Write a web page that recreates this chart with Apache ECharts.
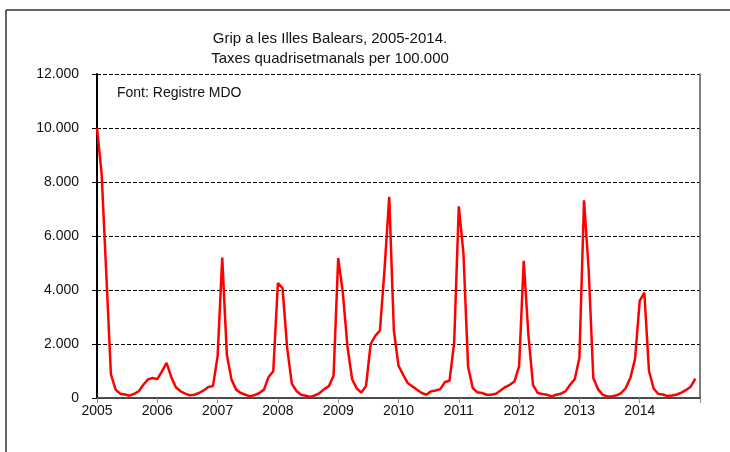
<!DOCTYPE html>
<html>
<head>
<meta charset="utf-8">
<script src="https://cdn.jsdelivr.net/npm/echarts@6/dist/echarts.min.js"></script>
<style>
  html, body { margin: 0; padding: 0; background: #fff; }
  #chart { width: 730px; height: 452px; }
</style>
</head>
<body>
<div id="chart"></div>
<script>
// taxes quadrisetmanals (13 periodes per any)
const years = [2005, 2006, 2007, 2008, 2009, 2010, 2011, 2012, 2013, 2014];
const grip2005 = [10000, 8300, 4600, 880, 310, 160, 130, 85, 150, 250, 490, 690, 740];
const grip2006 = [700, 985, 1300, 780, 400, 250, 160, 100, 120, 185, 280, 405, 440];
const grip2007 = [1540, 5200, 1600, 680, 310, 185, 120, 60, 110, 185, 310, 780, 990];
const grip2008 = [4260, 4070, 1850, 530, 260, 120, 80, 40, 100, 185, 330, 440, 820];
const grip2009 = [5180, 3900, 1900, 700, 350, 200, 450, 2000, 2300, 2500, 4800, 7450, 2500];
const grip2010 = [1200, 860, 555, 430, 307, 185, 120, 245, 280, 330, 590, 640, 2040];
const grip2011 = [7100, 5370, 1170, 370, 210, 185, 120, 120, 160, 280, 405, 490, 615];
const grip2012 = [1170, 5085, 2345, 490, 185, 150, 120, 60, 120, 160, 245, 490, 700];
const grip2013 = [1480, 7320, 4750, 740, 330, 120, 60, 60, 100, 185, 370, 750, 1450];
const grip2014 = [3600, 3900, 1000, 350, 150, 130, 70, 90, 130, 200, 300, 420, 720];
const yTicks = [0, 2000, 4000, 6000, 8000, 10000, 12000];

const rates = [].concat(grip2005, grip2006, grip2007, grip2008, grip2009,
  grip2010, grip2011, grip2012, grip2013, grip2014);

// una etiqueta per periode; l'any a la primera de cada any
const periods = [];
years.forEach(function (y) {
  for (let p = 1; p <= 13; p++) periods.push(p === 1 ? String(y) : y + '-' + p);
});
periods.push('');

const chart = echarts.init(document.getElementById('chart'));
const font = 'Liberation Sans, Arial, sans-serif';

chart.setOption({
  animation: false,
  grid: { left: 97, right: 30, top: 74, bottom: 54 },
  graphic: [
    { type: 'line', shape: { x1: 6, y1: 10, x2: 730, y2: 10 }, style: { stroke: '#333', lineWidth: 1.5 } },
    { type: 'line', shape: { x1: 6, y1: 10, x2: 6, y2: 452 }, style: { stroke: '#333', lineWidth: 1.5 } },
    {
      type: 'text', x: 330, y: 29,
      style: {
        text: 'Grip a les Illes Balears, 2005-2014.\nTaxes quadrisetmanals per 100.000',
        font: '15px ' + font, fill: '#111', align: 'center', lineHeight: 20
      }
    },
    {
      type: 'text', x: 117, y: 86,
      style: { text: 'Font: Registre MDO', font: '14px ' + font, fill: '#111' }
    }
  ],
  xAxis: [
    {
      type: 'category',
      data: periods,
      boundaryGap: false,
      axisLine: { lineStyle: { color: '#8c8c8c', width: 1.5 } },
      axisTick: { interval: 12, length: 5, lineStyle: { color: '#8c8c8c' } },
      axisLabel: {
        interval: 12, margin: 6, color: '#111', fontSize: 14, fontFamily: font,
        formatter: function (v) { return v.length === 4 ? v : ''; }
      },
      splitLine: { show: false }
    },
    {
      type: 'category',
      position: 'top',
      data: periods,
      boundaryGap: false,
      axisLine: { lineStyle: { color: '#333', width: 1.5 } },
      axisTick: { show: false },
      axisLabel: { show: false }
    }
  ],
  yAxis: [
    {
      type: 'value',
      min: yTicks[0],
      max: yTicks[yTicks.length - 1],
      interval: 2000,
      axisLine: { show: true, lineStyle: { color: '#000', width: 2 } },
      axisTick: { show: true, length: 5, lineStyle: { color: '#000' } },
      axisLabel: {
        margin: 18, color: '#111', fontSize: 14, fontFamily: font,
        formatter: function (v) { return v === 0 ? '0' : (v / 1000).toFixed(3); }
      },
      splitLine: { lineStyle: { color: '#000', type: [4, 2], width: 1 } }
    },
    {
      type: 'value',
      position: 'right',
      min: 0, max: 12000, interval: 2000,
      axisLine: { show: true, lineStyle: { color: '#555', width: 1.5 } },
      axisTick: { show: false },
      axisLabel: { show: false },
      splitLine: { show: false }
    }
  ],
  series: [
    {
      type: 'line',
      data: rates,
      symbol: 'none',
      lineStyle: { color: '#ff0000', width: 2.5 }
    }
  ]
});
</script>
</body>
</html>
